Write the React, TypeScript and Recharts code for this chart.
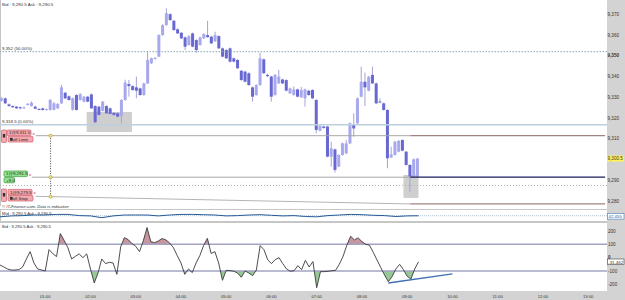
import React from "react";
import {
  ComposedChart,
  Bar,
  Line,
  Area,
  XAxis,
  YAxis,
  ReferenceLine,
  ReferenceArea,
  ReferenceDot,
} from "recharts";

const FONT = "'Liberation Sans', Arial, sans-serif";

// 5-minute candles starting at 00:00
const OPEN = [
  9328.4, 9329.5, 9326.6, 9325.8, 9325.5, 9325.2, 9324.9, 9326.3, 9325.8, 9325.5,
  9324.4, 9324.7, 9323.9, 9323.9, 9324.0, 9324.7, 9327.1, 9332.2, 9330.5, 9324.0,
  9331.1, 9328.7, 9327.9, 9330.3, 9331.4, 9325.8, 9325.5, 9323.5, 9325.8, 9324.7,
  9322.5, 9322.3, 9321.0, 9328.7, 9336.4, 9335.4, 9334.8, 9334.3, 9331.1, 9336.7,
  9346.4, 9348.5, 9349.6, 9360.0, 9364.8, 9370.1, 9366.9, 9362.8, 9361.1, 9358.9,
  9355.2, 9360.8, 9357.6, 9355.2, 9358.4, 9360.0, 9359.2, 9357.0, 9359.5, 9353.6,
  9352.8, 9353.6, 9348.8, 9348.0, 9342.8, 9342.4, 9341.6, 9334.8, 9331.1, 9335.9,
  9348.3, 9340.8, 9340.0, 9331.1, 9336.7, 9338.6, 9338.3, 9331.9, 9331.1, 9333.8,
  9330.0, 9329.5, 9333.2, 9333.5, 9328.7, 9313.9, 9315.9, 9315.9, 9301.4, 9304.9,
  9296.6, 9302.2, 9303.0, 9307.8, 9317.1, 9317.5, 9330.3, 9337.5, 9333.2, 9340.8,
  9336.7, 9328.0, 9327.1, 9323.9, 9301.0, 9302.2, 9303.8, 9309.4, 9303.8, 9297.4,
  9291.8, 9291.8,
];
const HIGH = [
  9330.0, 9330.0, 9327.0, 9326.2, 9325.8, 9325.6, 9325.6, 9327.2, 9328.0, 9325.9,
  9324.8, 9325.0, 9324.6, 9329.2, 9327.8, 9327.2, 9336.0, 9332.6, 9330.9, 9329.9,
  9331.5, 9332.0, 9330.7, 9330.7, 9331.8, 9326.2, 9325.9, 9328.3, 9326.2, 9325.1,
  9322.9, 9322.7, 9329.1, 9338.5, 9338.3, 9335.8, 9340.0, 9334.7, 9337.1, 9352.0,
  9349.2, 9349.4, 9360.4, 9365.2, 9372.9, 9370.5, 9367.3, 9363.2, 9361.5, 9359.3,
  9359.9, 9361.2, 9358.0, 9359.3, 9360.9, 9366.9, 9359.6, 9361.6, 9359.9, 9354.0,
  9353.2, 9354.0, 9349.2, 9348.4, 9343.2, 9342.8, 9342.0, 9335.2, 9336.3, 9351.5,
  9348.7, 9341.3, 9340.4, 9341.2, 9343.2, 9339.0, 9338.7, 9334.7, 9335.2, 9334.2,
  9335.0, 9334.2, 9333.6, 9333.9, 9329.1, 9317.1, 9316.3, 9316.3, 9308.6, 9305.3,
  9302.6, 9308.2, 9309.5, 9317.9, 9322.3, 9329.9, 9344.8, 9341.9, 9340.3, 9344.8,
  9337.1, 9329.5, 9327.5, 9324.3, 9306.2, 9309.0, 9309.4, 9309.8, 9304.2, 9297.8,
  9300.5, 9300.6,
];
const LOW = [
  9328.0, 9326.8, 9325.5, 9324.9, 9324.4, 9324.3, 9324.5, 9326.0, 9325.5, 9324.2,
  9323.8, 9323.5, 9323.6, 9323.6, 9323.7, 9324.4, 9326.8, 9329.2, 9328.4, 9323.6,
  9323.6, 9328.4, 9327.6, 9327.6, 9324.4, 9317.5, 9321.2, 9323.2, 9322.0, 9321.7,
  9321.2, 9320.4, 9317.5, 9328.4, 9330.3, 9333.2, 9329.5, 9330.8, 9330.8, 9336.4,
  9346.1, 9348.2, 9349.3, 9359.7, 9364.5, 9366.9, 9362.1, 9360.5, 9358.1, 9352.8,
  9354.9, 9354.1, 9351.5, 9354.9, 9358.1, 9358.7, 9355.7, 9356.7, 9353.3, 9349.3,
  9348.5, 9346.7, 9346.9, 9343.7, 9338.0, 9337.2, 9335.6, 9327.9, 9330.8, 9335.6,
  9341.3, 9339.7, 9327.9, 9330.8, 9336.4, 9336.4, 9332.9, 9331.6, 9330.8, 9330.0,
  9329.7, 9325.5, 9330.8, 9329.2, 9312.7, 9313.6, 9314.9, 9301.1, 9296.6, 9293.7,
  9296.3, 9301.9, 9302.7, 9307.5, 9311.0, 9316.7, 9330.0, 9325.8, 9332.9, 9336.4,
  9326.8, 9327.1, 9323.6, 9295.8, 9300.7, 9301.9, 9303.5, 9304.0, 9297.1, 9284.5,
  9291.5, 9291.2,
];
const CLOSE = [
  9329.5, 9327.1, 9325.8, 9325.2, 9324.7, 9324.7, 9325.1, 9326.9, 9327.4, 9324.5,
  9324.1, 9323.9, 9324.3, 9328.7, 9327.1, 9326.8, 9334.8, 9329.5, 9328.7, 9329.5,
  9323.9, 9331.5, 9330.3, 9327.9, 9324.7, 9318.0, 9321.5, 9327.9, 9322.3, 9322.0,
  9321.5, 9320.7, 9328.7, 9337.1, 9335.4, 9333.5, 9333.2, 9331.1, 9336.7, 9348.0,
  9348.8, 9349.0, 9360.0, 9364.8, 9370.5, 9367.2, 9362.4, 9360.8, 9358.4, 9354.4,
  9359.5, 9354.4, 9352.8, 9358.9, 9360.5, 9359.0, 9356.0, 9360.0, 9353.6, 9349.6,
  9348.8, 9347.2, 9347.2, 9344.0, 9338.3, 9337.5, 9335.9, 9330.3, 9335.9, 9348.8,
  9341.6, 9340.2, 9330.3, 9340.8, 9340.0, 9336.7, 9333.2, 9334.3, 9333.8, 9330.3,
  9333.5, 9333.8, 9331.1, 9329.5, 9314.3, 9316.2, 9315.2, 9301.4, 9305.4, 9295.0,
  9302.2, 9307.8, 9307.8, 9317.5, 9315.0, 9329.5, 9337.5, 9334.8, 9339.9, 9336.7,
  9327.1, 9327.6, 9323.9, 9300.6, 9302.5, 9308.6, 9309.0, 9304.3, 9297.4, 9291.8,
  9300.1, 9300.5,
];

// oscillator (CCI) per candle
const CCI = [
  -55, -70, -85, -93, -93, -90, -70, -10, 45, -40,
  -85, -92, -100, 60, 30, 8, 180, 130, 75, -10,
  10, 28, 0, 28, -85, -190, -115, -10, -45, -35,
  -40, -125, 80, 150, 135, 105, 85, 45, 125, 225,
  120, 112, 125, 143, 133, 110, 75, 15, -40, -125,
  -85, -112, -40, 15, 90, 145, 31, 45, -40, -170,
  -95, -97, -102, -115, -147, -100, -115, -135, -93, 90,
  60, -15, -45, -15, 0, -45, -85, -102, -98, -60,
  -90, -20, -70, -30, -225, -105, -105, -102, -98, -95,
  -50, 10, 93, 160, 133, 148, 120, 100, 93, 40,
  -18, -75, -130, -180, -142, -85, -50, -90, -140, -160,
  -85, -31.462,
];

// mid line of the small panel, one value every 3 candles
const MID = [
  39, 42, 43, 45, 45, 47, 47, 43, 42, 36,
  42, 45, 45, 45, 42, 45, 47, 47, 46, 45,
  42, 43, 45, 46, 44, 42, 43, 40, 39, 43,
  45, 47, 46, 44, 43, 40, 42, 42.5,
];

const HOUR_TICKS = ["01:00", "02:00", "03:00", "04:00", "05:00", "06:00", "07:00", "08:00", "09:00", "10:00", "11:00", "12:00", "13:00"];
// 9,300 sits under the current-price box, so it is left out
const PRICE_TICKS = [9280, 9290, 9310, 9320, 9330, 9340, 9350, 9360, 9370];
const CCI_TICKS = [-200, -100, 0, 100, 200];

const SLOT_COUNT = 162;
const pad = (n: number) => String(n).padStart(2, "0");
const TIMES = Array.from({ length: SLOT_COUNT }, (_, i) => `${pad(Math.floor(i / 12))}:${pad((i % 12) * 5)}`);

const rows = TIMES.map((t, i) => ({
  t,
  open: OPEN[i],
  high: HIGH[i],
  low: LOW[i],
  close: CLOSE[i],
  cci: CCI[i],
  mid: i % 3 === 0 ? MID[i / 3] : undefined,
}));

const W = 625;
const AXIS_W = 18;
const MAIN_H = 205;
const PRICE_DOMAIN = [9278.1, 9376.9];
const OSC_TOP = 222;
const OSC_PLOT_H = 69;
const OSC_MIN = -250;
const OSC_MAX = 267;

const UP_FILL = "#a8a8ee";
const DOWN_FILL = "#6868d2";
const WICK = "#a4a4d6";

const fmtPrice = (v: number) => `${Math.floor(v / 1000)},${String(Math.round(v % 1000)).padStart(3, "0")}`;

const Candle = (props: any) => {
  const { x, y, width, height, payload } = props;
  if (!payload || payload.high == null) return null;
  const { open, close, high, low } = payload;
  const top = Math.min(y, y + height);
  const h = Math.abs(height);
  const ratio = h / (high - low);
  const bodyTop = top + (high - Math.max(open, close)) * ratio;
  const bodyH = Math.max(1, Math.abs(open - close) * ratio);
  const cx = x + width / 2;
  return (
    <g>
      <line x1={cx} x2={cx} y1={top} y2={top + h} stroke={WICK} strokeWidth={1} />
      <rect x={x} y={bodyTop} width={width} height={bodyH} fill={close >= open ? UP_FILL : DOWN_FILL} />
    </g>
  );
};

const PriceTick = ({ y, payload }: any) => (
  <text x={607.5} y={y + 1.6} fontSize={4.6} fontFamily={FONT} fill="#333" fontWeight={payload.value === 9350 ? 700 : 400}>
    {fmtPrice(payload.value)}
  </text>
);

const CciTick = ({ y, payload }: any) => (
  <text x={608} y={y + 1.6} fontSize={4.6} fontFamily={FONT} fill="#333" fontWeight={payload.value === 0 ? 700 : 400}>
    {payload.value}
  </text>
);

const TimeTick = ({ x, payload }: any) =>
  HOUR_TICKS.includes(payload.value) ? (
    <text x={x} y={OSC_PLOT_H + 6.6} fontSize={4.2} fontFamily={FONT} fill="#333" textAnchor="middle">
      {payload.value}
    </text>
  ) : (
    <g />
  );

const Tag = ({ x, y, w, h = 5.6, text, fill, stroke }: any) => (
  <g>
    <rect x={x} y={y} width={w} height={h} rx={1} fill={fill} stroke={stroke} strokeWidth={0.7} />
    <text x={x + 2} y={y + h - 1.3} fontSize={4.4} fontFamily={FONT} fill="#222">
      {text}
    </text>
  </g>
);

const PINK = "#f4a9b0";
const PINK_EDGE = "#cf5f6a";
const GREEN = "#92e692";
const GREEN_EDGE = "#3a9c3a";

const Overlay = () => (
  <svg width={W} height={300} style={{ position: "absolute", left: 0, top: 0, pointerEvents: "none" }}>
    <g fontFamily={FONT} fontSize={4.4} fill="#333">
      <text x={2} y={5.5}>Bid : 9,290.5 Ask : 9,290.5</text>
      <text x={2} y={49.5}>9,352 (50.00%)</text>
      <text x={2} y={123}>9,318.5 (0.00%)</text>
    </g>

    {/* sell limit */}
    <rect x={1.5} y={130} width={5} height={12.5} rx={1} fill={PINK} stroke={PINK_EDGE} strokeWidth={0.7} />
    <rect x={2.8} y={134} width={2.4} height={3.5} fill="#333" />
    <Tag x={7} y={130} w={24} text="1@9,311.5" fill={PINK} stroke={PINK_EDGE} />
    <text x={32.5} y={135} fontSize={4.4} fontFamily={FONT} fill="#c02030">x</text>
    <Tag x={8} y={136.4} w={25} text="   Sell Limit" fill={PINK} stroke={PINK_EDGE} />
    <rect x={10} y={137.8} width={2.6} height={2.8} fill="#333" />

    {/* position */}
    <Tag x={4} y={171} w={23.5} text="1@9,291.5" fill={GREEN} stroke={GREEN_EDGE} />
    <text x={29} y={176} fontSize={4.4} fontFamily={FONT} fill="#c02030">x</text>
    <Tag x={4} y={177.6} w={10.5} h={5.2} text="+9.0" fill={GREEN} stroke={GREEN_EDGE} />

    {/* sell stop */}
    <rect x={1.5} y={189} width={5} height={12.5} rx={1} fill={PINK} stroke={PINK_EDGE} strokeWidth={0.7} />
    <rect x={2.8} y={193} width={2.4} height={3.5} fill="#333" />
    <Tag x={8} y={189.4} w={24} text="1@9,279.5" fill={PINK} stroke={PINK_EDGE} />
    <text x={33.5} y={194.4} fontSize={4.4} fontFamily={FONT} fill="#c02030">x</text>
    <Tag x={8} y={195.4} w={25} text="   Sell Stop" fill={PINK} stroke={PINK_EDGE} />
    <rect x={10} y={196.8} width={2.6} height={2.8} fill="#333" />

    {/* right axis value boxes */}
    <rect x={607} y={155.6} width={17} height={6} fill="#fff35a" />
    <text x={607.5} y={160.3} fontSize={4.6} fontFamily={FONT} fill="#333">9,300.5</text>
    <rect x={607.5} y={213.5} width={16.5} height={5.6} fill="#fff" stroke="#4a7ab4" strokeWidth={0.6} />
    <text x={608.5} y={218} fontSize={4.4} fontFamily={FONT} fill="#2a5a9a">42.455</text>
    <rect x={607.5} y={259} width={16.5} height={5.6} fill="#fff" stroke="#444" strokeWidth={0.6} />
    <text x={608.2} y={263.5} fontSize={4.4} fontFamily={FONT} fill="#333">-31.462</text>

    <g fontFamily={FONT} fontSize={4.2} fill="#333">
      <text x={2} y={208.3} fontStyle="italic">© IT-Finance.com. Data is indicative</text>
      <text x={2} y={214.5}>Mid : 9,290.5 Ask : 9,290.5</text>
      <text x={2} y={228}>Bid : 9,290.5 Ask : 9,290.5</text>
    </g>
  </svg>
);

export default function App() {
  const posStop = (OSC_MAX - 100) / (OSC_MAX - OSC_MIN);
  const negStop = (OSC_MAX + 100) / (OSC_MAX - OSC_MIN);
  const flat = { top: 0, right: 0, bottom: 0, left: 0 };

  return (
    <div style={{ position: "absolute", left: 0, top: 0, width: W, height: 300, background: "#fff", overflow: "hidden" }}>
      <div style={{ position: "absolute", left: 607, top: 0, width: 18, height: 300, background: "#d3d3d3" }} />
      <div style={{ position: "absolute", left: 0, top: 291, width: 607, height: 9, background: "#d3d3d3" }} />
      <div style={{ position: "absolute", left: 0, top: 0, width: 1, height: 206, background: "#c4c4c4" }} />
      <div style={{ position: "absolute", left: 0, top: 209, width: 606, height: 11, border: "1px solid #c6c6c6", borderRight: "none" }} />
      <div style={{ position: "absolute", left: 0, top: 222, width: 607, height: 1, background: "#c6c6c6" }} />

      {/* shaded boxes, behind the candles */}
      <div style={{ position: "absolute", left: 0, top: 0 }}>
        <ComposedChart width={W} height={MAIN_H} data={rows} margin={flat}>
          <XAxis dataKey="t" hide />
          <YAxis orientation="right" width={AXIS_W} domain={PRICE_DOMAIN} allowDataOverflow tick={false} axisLine={false} tickLine={false} />
          <ReferenceArea x1={TIMES[23]} x2={TIMES[35]} y1={9313.3} y2={9322.9} fill="#cfcfcf" fillOpacity={1} stroke="none" />
          <ReferenceArea x1={TIMES[107]} x2={TIMES[111]} y1={9281.5} y2={9292.6} fill="#cfcfcf" fillOpacity={1} stroke="none" />
        </ComposedChart>
      </div>

      {/* price panel */}
      <div style={{ position: "absolute", left: 0, top: 0 }}>
        <ComposedChart width={W} height={MAIN_H} data={rows} margin={flat}>
          <XAxis dataKey="t" hide />
          <YAxis
            orientation="right"
            width={AXIS_W}
            domain={PRICE_DOMAIN}
            allowDataOverflow
            ticks={PRICE_TICKS}
            interval={0}
            axisLine={false}
            tickLine={false}
            tick={<PriceTick />}
          />
          <ReferenceLine y={9352} stroke="#86a6b2" strokeDasharray="1.5 1.5" />
          <ReferenceLine y={9316.8} stroke="#bcd0e0" strokeWidth={1.5} />
          <ReferenceLine y={9287.5} stroke="#b4b4b4" strokeDasharray="1 2" />
          <ReferenceLine segment={[{ x: TIMES[9], y: 9311.5 }, { x: TIMES[109], y: 9311.5 }]} stroke="#a8a8a8" />
          <ReferenceLine segment={[{ x: TIMES[109], y: 9311.5 }, { x: TIMES[161], y: 9311.5 }]} stroke="#a08484" strokeWidth={1.2} />
          <ReferenceLine segment={[{ x: TIMES[8], y: 9291.5 }, { x: TIMES[109], y: 9291.5 }]} stroke="#a8a8a8" />
          <ReferenceLine segment={[{ x: TIMES[109], y: 9291.5 }, { x: TIMES[161], y: 9291.5 }]} stroke="#1c1c5c" strokeWidth={1.3} />
          <ReferenceLine segment={[{ x: TIMES[9], y: 9282.3 }, { x: TIMES[109], y: 9278.6 }]} stroke="#b4b4b4" />
          <ReferenceLine segment={[{ x: TIMES[109], y: 9278.6 }, { x: TIMES[161], y: 9278.6 }]} stroke="#a08484" strokeWidth={1.2} />
          <ReferenceLine segment={[{ x: TIMES[13], y: 9311.5 }, { x: TIMES[13], y: 9282.1 }]} stroke="#444" strokeDasharray="1 1.5" />
          <Bar dataKey={(d: any) => (d.high == null ? null : [d.low, d.high])} barSize={3} shape={<Candle />} isAnimationActive={false} />
          <ReferenceDot x={TIMES[13]} y={9311.5} r={1.6} fill="#f3e27a" stroke="#b39a3a" strokeWidth={0.6} />
          <ReferenceDot x={TIMES[13]} y={9291.5} r={1.6} fill="#f3e27a" stroke="#b39a3a" strokeWidth={0.6} />
          <ReferenceDot x={TIMES[13]} y={9282.1} r={1.6} fill="#f3e27a" stroke="#b39a3a" strokeWidth={0.6} />
        </ComposedChart>
      </div>

      {/* small mid panel */}
      <div style={{ position: "absolute", left: 0, top: 209 }}>
        <ComposedChart width={W} height={12} data={rows} margin={flat}>
          <XAxis dataKey="t" hide />
          <YAxis orientation="right" width={AXIS_W} domain={[25, 65]} allowDataOverflow tick={false} axisLine={false} tickLine={false} />
          <ReferenceLine y={42.455} stroke="#a9bccb" strokeDasharray="1 1" />
          <Line dataKey="mid" stroke="#275a96" strokeWidth={1} dot={false} connectNulls isAnimationActive={false} />
        </ComposedChart>
      </div>

      {/* oscillator panel */}
      <div style={{ position: "absolute", left: 0, top: OSC_TOP }}>
        <ComposedChart width={W} height={OSC_PLOT_H + 9} data={rows} margin={flat}>
          <defs>
            <linearGradient id="cciPos" gradientUnits="userSpaceOnUse" x1={0} y1={0} x2={0} y2={OSC_PLOT_H}>
              <stop offset={0} stopColor="#c7969e" />
              <stop offset={posStop} stopColor="#c7969e" />
              <stop offset={posStop} stopColor="#c7969e" stopOpacity={0} />
              <stop offset={1} stopColor="#c7969e" stopOpacity={0} />
            </linearGradient>
            <linearGradient id="cciNeg" gradientUnits="userSpaceOnUse" x1={0} y1={0} x2={0} y2={OSC_PLOT_H}>
              <stop offset={0} stopColor="#98c898" stopOpacity={0} />
              <stop offset={negStop} stopColor="#98c898" stopOpacity={0} />
              <stop offset={negStop} stopColor="#98c898" />
              <stop offset={1} stopColor="#98c898" />
            </linearGradient>
          </defs>
          <XAxis dataKey="t" height={9} interval={0} axisLine={false} tickLine={false} tick={<TimeTick />} />
          <YAxis
            orientation="right"
            width={AXIS_W}
            domain={[OSC_MIN, OSC_MAX]}
            allowDataOverflow
            ticks={CCI_TICKS}
            interval={0}
            axisLine={false}
            tickLine={false}
            tick={<CciTick />}
          />
          <Area dataKey="cci" baseValue={100} stroke="none" fill="url(#cciPos)" fillOpacity={1} isAnimationActive={false} />
          <Area dataKey="cci" baseValue={-100} stroke="none" fill="url(#cciNeg)" fillOpacity={1} isAnimationActive={false} />
          <ReferenceLine y={100} stroke="#a3a3c4" strokeWidth={1.5} />
          <ReferenceLine y={-100} stroke="#a3a3c4" strokeWidth={1.5} />
          <Line dataKey="cci" stroke="#3a3a3a" strokeWidth={0.9} dot={false} isAnimationActive={false} />
          <ReferenceLine segment={[{ x: TIMES[103], y: -190 }, { x: TIMES[120], y: -122 }]} stroke="#3f6fb4" strokeWidth={1.3} />
        </ComposedChart>
      </div>

      <Overlay />
    </div>
  );
}
